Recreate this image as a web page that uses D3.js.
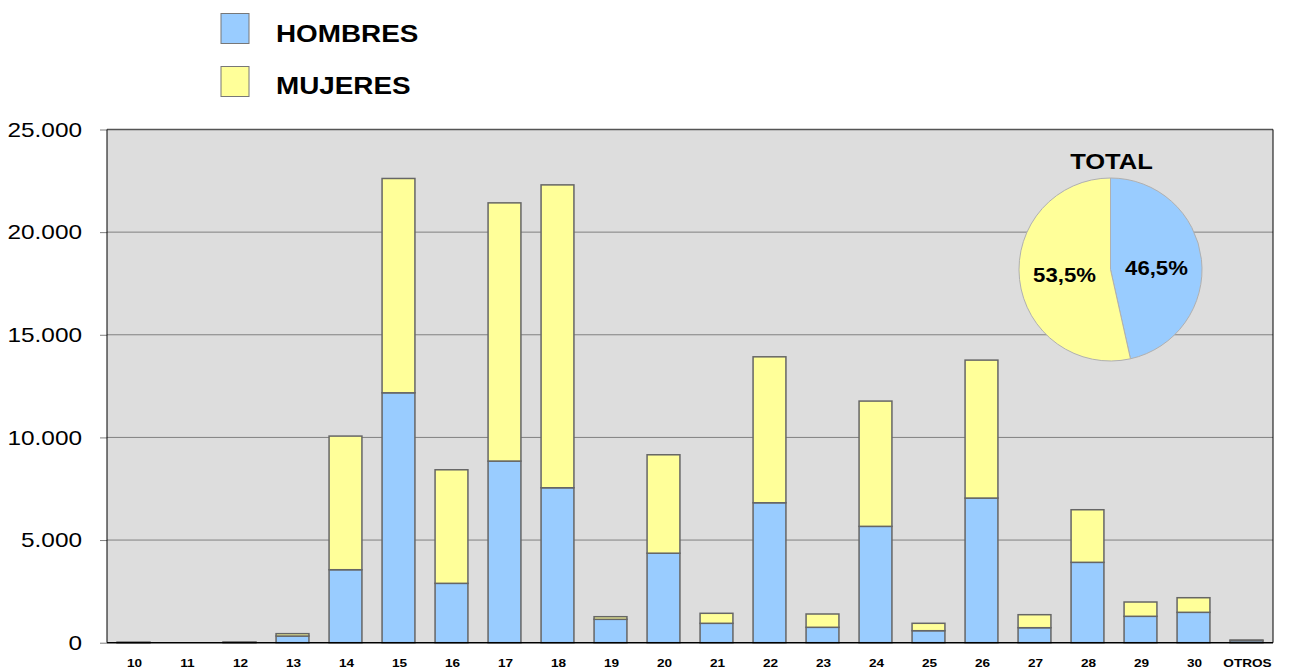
<!DOCTYPE html>
<html>
<head>
<meta charset="utf-8">
<script src="https://cdn.jsdelivr.net/npm/d3@7/dist/d3.min.js"></script>
<style>
  html, body { margin: 0; padding: 0; background: #ffffff; }
  svg { display: block; font-family: "Liberation Sans", Arial, sans-serif; }
</style>
</head>
<body>
<svg id="chart" width="1289" height="672"></svg>
<script>
// Edades (categorías del eje X)
const categories = ["10","11","12","13","14","15","16","17","18","19","20","21","22","23","24","25","26","27","28","29","30","OTROS"];
// Hombres por categoría
const hombres = [15, 0, 20, 326, 3555, 12174, 2892, 8848, 7548, 1140, 4360, 945, 6817, 750, 5668, 584, 7046, 730, 3915, 1286, 1480, 100];
// Mujeres por categoría
const mujeres = [5, 0, 10, 114, 6510, 10440, 5532, 12578, 14754, 126, 4795, 487, 7110, 648, 6102, 361, 6720, 634, 2562, 696, 711, 31];
// Reparto total (%)
const totalLabels = ["HOMBRES", "MUJERES"];
const totalPct = [46.5, 53.5];
// Marcas del eje Y
const yTicks = [0, 5000, 10000, 15000, 20000, 25000];

const colors = { HOMBRES: "#99ccff", MUJERES: "#ffff99" };
const svg = d3.select("#chart");

const plot = { left: 107, right: 1273, top: 129.5, bottom: 642.7 };

const x = d3.scaleBand().domain(categories).range([plot.left, plot.right]).paddingInner(0.38).paddingOuter(0.19);
const y = d3.scaleLinear().domain([0, 25000]).range([plot.bottom, plot.top]);

// Texto ensanchado horizontalmente (tipografía ancha)
function widen(sel, k) {
  sel.each(function () {
    const len = this.getComputedTextLength();
    d3.select(this).attr("textLength", len * k).attr("lengthAdjust", "spacingAndGlyphs");
  });
}

// Fondo del área de trazado
svg.append("rect")
  .attr("x", plot.left).attr("y", plot.top)
  .attr("width", plot.right - plot.left).attr("height", plot.bottom - plot.top)
  .attr("fill", "#dddddd");

// Líneas de cuadrícula
svg.append("g").selectAll("line").data(yTicks.filter(d => d > 0 && d < 25000)).join("line")
  .attr("x1", plot.left).attr("x2", plot.right)
  .attr("y1", d => y(d)).attr("y2", d => y(d))
  .attr("stroke", "#808080").attr("stroke-width", 1);

// Eje Y
const fmt = d => d3.format(",")(d).replace(/,/g, ".");
const yAxis = svg.append("g").attr("transform", `translate(${plot.left},0)`)
  .call(d3.axisLeft(y).tickValues(yTicks).tickFormat(fmt).tickSize(7).tickPadding(18));
yAxis.select(".domain").remove();
yAxis.selectAll(".tick line").attr("stroke", "#808080");
yAxis.selectAll(".tick text").attr("font-size", 21).attr("fill", "#000")
  .attr("font-family", "'Liberation Sans', Arial, sans-serif")
  .call(widen, 1.16);

// Barras apiladas
const rows = categories.map((c, i) => ({ cat: c, HOMBRES: hombres[i], MUJERES: mujeres[i] }));
const stack = d3.stack().keys(["HOMBRES", "MUJERES"])(rows);
svg.append("g").selectAll("g").data(stack).join("g")
  .attr("fill", d => colors[d.key])
  .selectAll("rect").data(d => d).join("rect")
  .attr("x", d => x(d.data.cat))
  .attr("width", x.bandwidth())
  .attr("y", d => y(d[1]))
  .attr("height", d => Math.max(0, y(d[0]) - y(d[1])))
  .attr("stroke", "#666666").attr("stroke-width", 1.5);

// Bordes del área de trazado
svg.append("line").attr("x1", plot.left).attr("x2", plot.right).attr("y1", plot.top).attr("y2", plot.top)
  .attr("stroke", "#555").attr("stroke-width", 1.5);
svg.append("line").attr("x1", plot.left).attr("x2", plot.left).attr("y1", plot.top).attr("y2", plot.bottom)
  .attr("stroke", "#000").attr("stroke-width", 1);
svg.append("line").attr("x1", plot.right).attr("x2", plot.right).attr("y1", plot.top).attr("y2", plot.bottom)
  .attr("stroke", "#000").attr("stroke-width", 1);
svg.append("line").attr("x1", plot.left).attr("x2", plot.right).attr("y1", plot.bottom).attr("y2", plot.bottom)
  .attr("stroke", "#000").attr("stroke-width", 1.5);

// Etiquetas del eje X
svg.append("g").selectAll("text").data(categories).join("text")
  .attr("x", d => x(d) + x.bandwidth() / 2 + 1)
  .attr("y", 667)
  .attr("text-anchor", "middle")
  .attr("font-size", 11.5).attr("font-weight", "bold")
  .text(d => d)
  .call(widen, 1.18);

// Leyenda
const legend = svg.append("g");
totalLabels.forEach((k, i) => {
  legend.append("rect")
    .attr("x", 221).attr("y", 13.5 + i * 53).attr("width", 28).attr("height", 30)
    .attr("fill", colors[k]).attr("stroke", "#777").attr("stroke-width", 1);
  legend.append("text")
    .attr("x", 276).attr("y", 41.5 + i * 52)
    .attr("font-size", 24).attr("font-weight", "bold")
    .text(k)
    .call(widen, 1.16);
});

// Gráfico circular del total
const cx = 1110.5, cy = 269.5, r = 91.5;
const pieG = svg.append("g").attr("transform", `translate(${cx},${cy})`);
const pie = d3.pie().sort(null).value(d => d.v);
const pieData = pie(totalLabels.map((k, i) => ({ k, v: totalPct[i] })));
const arc = d3.arc().innerRadius(0).outerRadius(r);
pieG.selectAll("path").data(pieData).join("path")
  .attr("d", arc)
  .attr("fill", d => colors[d.data.k])
  .attr("stroke", "#b0b0b0").attr("stroke-width", 1);
const labelPos = [[46, -2], [-46, 5]];
pieG.selectAll("text.pct").data(pieData).join("text")
  .attr("class", "pct")
  .attr("x", (d, i) => labelPos[i][0]).attr("y", (d, i) => labelPos[i][1])
  .attr("text-anchor", "middle").attr("dominant-baseline", "central")
  .attr("font-size", 20.5).attr("font-weight", "bold")
  .text(d => d3.format(".1f")(d.data.v).replace(".", ",") + "%")
  .call(widen, 1.08);
svg.append("text")
  .attr("x", cx + 1).attr("y", 169)
  .attr("text-anchor", "middle")
  .attr("font-size", 22).attr("font-weight", "bold")
  .text("TOTAL")
  .call(widen, 1.16);
</script>
</body>
</html>
